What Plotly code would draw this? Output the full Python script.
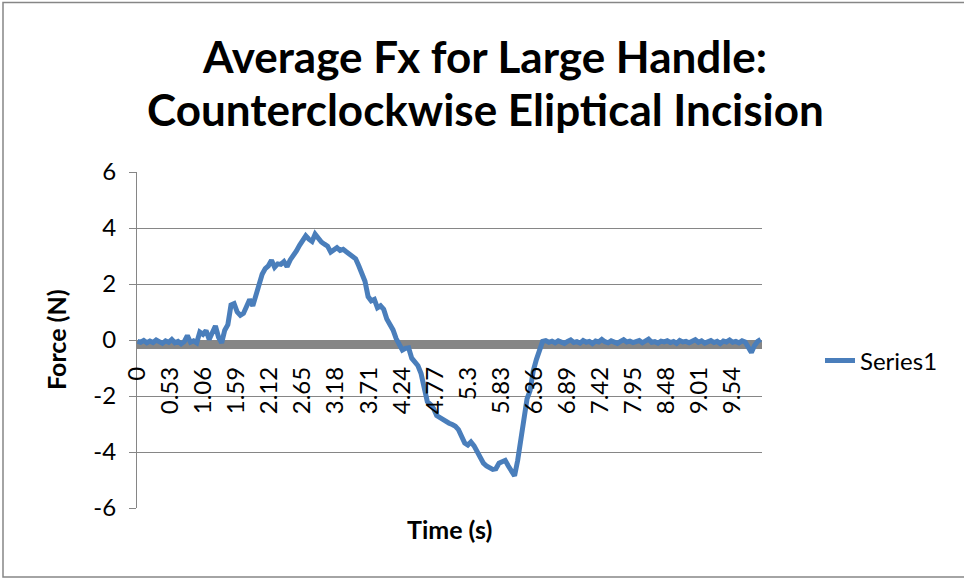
import plotly.graph_objects as go

# Average Fx (N), sampled every 0.05 s from 0 to 10 s
SAMPLE_DT = 0.05
force_n = [
    -0.05, -0.08, -0.02, -0.10, -0.04, -0.09, 0.00, -0.07, -0.12, -0.03,
    -0.08, 0.02, -0.10, -0.05, -0.14, -0.06, 0.16, -0.08, -0.03, -0.10,
    0.28, 0.20, 0.34, 0.02, 0.30, 0.50, 0.10, -0.10, 0.35, 0.55,
    1.25, 1.30, 1.00, 0.88, 0.95, 1.18, 1.45, 1.22, 1.60, 1.90,
    2.35, 2.55, 2.65, 2.85, 2.60, 2.72, 2.70, 2.80, 2.62, 2.86,
    3.00, 3.18, 3.38, 3.55, 3.72, 3.60, 3.52, 3.78, 3.62, 3.50,
    3.42, 3.35, 3.14, 3.22, 3.30, 3.20, 3.24, 3.15, 3.05, 3.00,
    2.90, 2.65, 2.40, 2.10, 1.55, 1.40, 1.45, 1.15, 1.22, 1.10,
    0.75, 0.55, 0.36, 0.05, -0.20, -0.36, -0.30, -0.28, -0.65, -0.80,
    -0.92, -1.20, -1.70, -2.20, -2.30, -2.45, -2.70, -2.78, -2.82, -2.90,
    -2.97, -3.02, -3.08, -3.20, -3.50, -3.68, -3.75, -3.64, -3.78, -3.98,
    -4.20, -4.40, -4.50, -4.57, -4.62, -4.60, -4.40, -4.35, -4.30, -4.50,
    -4.65, -4.85, -4.30, -3.60, -2.90, -2.10, -1.80, -1.10, -0.70, -0.38,
    -0.05, -0.02, -0.08, -0.04, -0.10, -0.03, -0.07, -0.12, -0.05, 0.00,
    -0.09, -0.06, -0.11, -0.02, -0.08, -0.05, -0.13, -0.04, -0.07, 0.02,
    -0.06, -0.10, -0.03, -0.08, -0.12, -0.05, 0.01, -0.07, -0.04, -0.09,
    -0.06, -0.02, -0.10, -0.05, 0.03, -0.08, -0.06, -0.11, -0.04, -0.07,
    -0.03, -0.09, -0.05, -0.12, -0.02, -0.07, -0.05, -0.10, -0.04, 0.01,
    -0.08, -0.03, -0.11, -0.06, -0.02, -0.09, -0.05, -0.13, -0.04, -0.07,
    0.00, -0.08, -0.05, -0.10, -0.03, -0.07, -0.25, -0.45, -0.20, -0.05,
    0.02,
]
time_s = [round(i * SAMPLE_DT, 2) for i in range(len(force_n))]

# Category-style tick labels every 0.53 s
tick_times = [0, 0.53, 1.06, 1.59, 2.12, 2.65, 3.18, 3.71, 4.24, 4.77,
              5.3, 5.83, 6.36, 6.89, 7.42, 7.95, 8.48, 9.01, 9.54]
tick_text = ["0", "0.53", "1.06", "1.59", "2.12", "2.65", "3.18", "3.71", "4.24", "4.77",
             "5.3", "5.83", "6.36", "6.89", "7.42", "7.95", "8.48", "9.01", "9.54"]
y_ticks = [-6, -4, -2, 0, 2, 4, 6]
y_tick_text = ["-6", "-4", "-2", "0", "2", "4", "6"]

GRID = "#868686"
BLUE = "#4A7EBB"
FONT = "Lato"
TICK_SIZE = 24

# Pixel geometry of the plot area
W, H = 964, 579
L, R, T, B = 137, 762, 172, 508


def px_x(p):
    return (p - L) / (R - L)


def px_y(p):
    return (B - p) / (B - T)


fig = go.Figure()
fig.add_trace(go.Scatter(
    x=time_s, y=force_n, mode="lines", name="Series1",
    line=dict(color=BLUE, width=5, shape="linear"),
))

fig.update_layout(
    width=W, height=H,
    margin=dict(l=L, r=W - R, t=T, b=H - B),
    paper_bgcolor="white", plot_bgcolor="white",
    font=dict(family=FONT, size=TICK_SIZE, color="black"),
    showlegend=True,
    legend=dict(x=px_x(820), y=px_y(361), xanchor="left", yanchor="middle",
                font=dict(family=FONT, size=TICK_SIZE, color="black"),
                bgcolor="rgba(0,0,0,0)", borderwidth=0),
    xaxis=dict(
        range=[-0.008, 10.02], anchor="free", position=0.5,
        tickmode="array", tickvals=tick_times, ticktext=tick_text,
        tickangle=-90, ticks="", showgrid=False, zeroline=False,
        showline=False, ticklabelstandoff=21,
        tickfont=dict(family=FONT, size=TICK_SIZE, color="black"),
    ),
    yaxis=dict(
        range=[-6, 6], tickmode="array", tickvals=y_ticks, ticktext=y_tick_text,
        showgrid=True, gridcolor=GRID, gridwidth=1, zeroline=False,
        showline=True, linecolor=GRID, linewidth=1,
        ticks="outside", ticklen=7, tickcolor=GRID, tickwidth=1,
        ticklabelstandoff=8,
        tickfont=dict(family=FONT, size=TICK_SIZE, color="black"),
    ),
    shapes=[
        # thick category axis band at y = 0
        dict(type="rect", xref="x domain", yref="y", x0=0, x1=1, y0=-0.32, y1=0,
             fillcolor=GRID, line=dict(width=0), layer="below"),
        # chart border
        dict(type="rect", xref="paper", yref="paper",
             x0=px_x(3), x1=px_x(990), y0=px_y(577), y1=px_y(2.5),
             line=dict(color=GRID, width=1.5), fillcolor="rgba(0,0,0,0)"),
    ],
    annotations=[
        dict(text="<b>Average Fx for Large Handle:</b>", x=px_x(484), y=px_y(56),
             xref="paper", yref="paper", showarrow=False, xanchor="center", yanchor="middle",
             font=dict(family=FONT, size=44, color="black")),
        dict(text="<b>Counterclockwise Eliptical Incision</b>", x=px_x(485), y=px_y(109),
             xref="paper", yref="paper", showarrow=False, xanchor="center", yanchor="middle",
             font=dict(family=FONT, size=44, color="black")),
        dict(text="<b>Time (s)</b>", x=px_x(449.5), y=px_y(529),
             xref="paper", yref="paper", showarrow=False, xanchor="center", yanchor="middle",
             font=dict(family=FONT, size=25, color="black")),
        dict(text="<b>Force (N)</b>", x=px_x(56), y=px_y(340), textangle=-90,
             xref="paper", yref="paper", showarrow=False, xanchor="center", yanchor="middle",
             font=dict(family=FONT, size=25, color="black")),
    ],
)

fig.write_html("out.html")
